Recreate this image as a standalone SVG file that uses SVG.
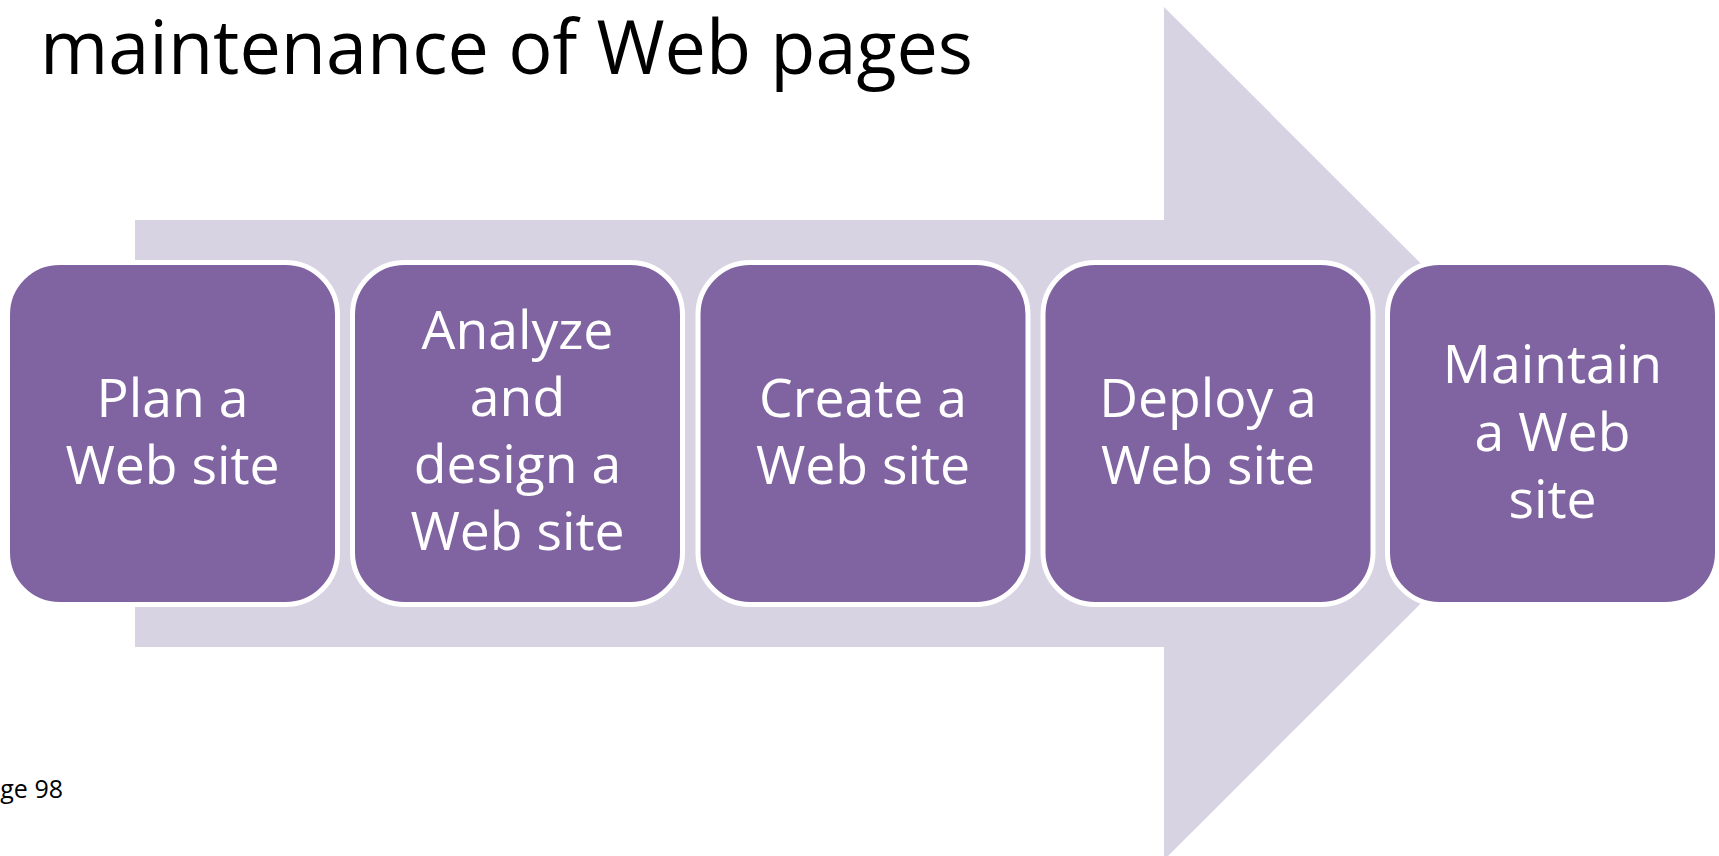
<svg xmlns="http://www.w3.org/2000/svg" width="1719" height="856" viewBox="0 0 1719 856">
  <style>
    .node rect { fill: #8064A2; stroke: #FFFFFF; stroke-width: 5; }
    .node text { fill: #FFFFFF; font-family: "Open Sans", "Noto Sans", sans-serif; font-size: 53.5px; text-anchor: middle; }
    .title { fill: #000000; font-family: "Open Sans", "Noto Sans", sans-serif; font-size: 75px; }
    .foot { fill: #000000; font-family: "Open Sans", "Noto Sans", sans-serif; font-size: 25px; }
  </style>
  <rect x="0" y="0" width="1719" height="856" fill="#FFFFFF"/>
  <text class="title" x="40" y="74" textLength="933" lengthAdjust="spacingAndGlyphs">maintenance of Web pages</text>
  <g id="connectors">
    <path d="M135 220 H1164 V7 L1591 433.5 L1164 860 V647 H135 Z" fill="#D7D3E3"/>
  </g>
  <g id="node1" class="node">
    <rect x="7.5" y="262.5" width="330" height="342" rx="52" ry="52"/>
    <text x="172.5"><tspan x="172.5" y="417">Plan a</tspan><tspan x="172.5" y="484">Web site</tspan></text>
  </g>
  <g id="node2" class="node">
    <rect x="352.5" y="262.5" width="330" height="342" rx="52" ry="52"/>
    <text x="517.5"><tspan x="517.5" y="349">Analyze</tspan><tspan x="517.5" y="416">and</tspan><tspan x="517.5" y="483">design a</tspan><tspan x="517.5" y="550">Web site</tspan></text>
  </g>
  <g id="node3" class="node">
    <rect x="698" y="262.5" width="330" height="342" rx="52" ry="52"/>
    <text x="863"><tspan x="863" y="417">Create a</tspan><tspan x="863" y="484">Web site</tspan></text>
  </g>
  <g id="node4" class="node">
    <rect x="1043" y="262.5" width="330" height="342" rx="52" ry="52"/>
    <text x="1208"><tspan x="1208" y="417">Deploy a</tspan><tspan x="1208" y="484">Web site</tspan></text>
  </g>
  <g id="node5" class="node">
    <rect x="1387.5" y="262.5" width="330" height="342" rx="52" ry="52"/>
    <text x="1552.5"><tspan x="1552.5" y="383">Maintain</tspan><tspan x="1552.5" y="450.5">a Web</tspan><tspan x="1552.5" y="518">site</tspan></text>
  </g>
  <text class="foot" x="63" y="798" text-anchor="end">ge 98</text>
</svg>
